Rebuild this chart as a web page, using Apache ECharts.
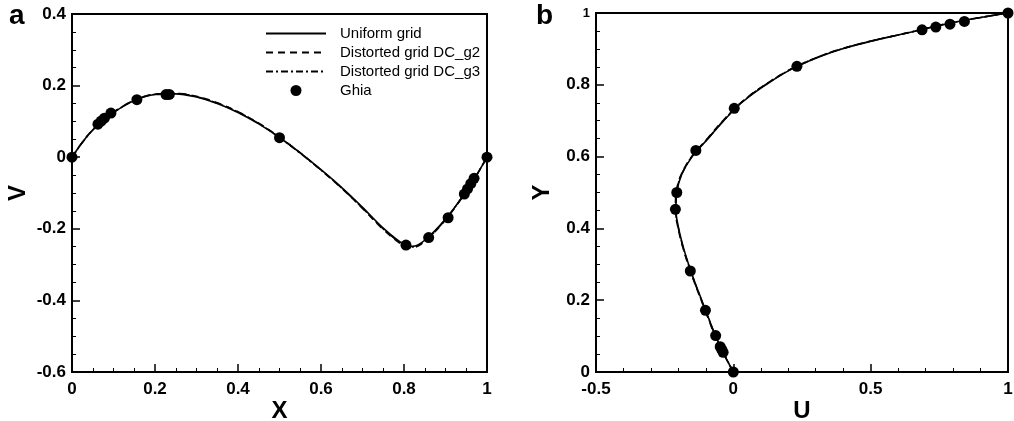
<!DOCTYPE html>
<html>
<head>
<meta charset="utf-8">
<script src="https://cdn.jsdelivr.net/npm/echarts@6/dist/echarts.min.js"></script>
<style>html,body{margin:0;padding:0;background:#fff;}#c{width:1014px;height:421px;}</style>
</head>
<body>
<div id="c"></div>
<script>
// ---- Panel a: V along horizontal centerline ----
const xTicksA = [0, 0.2, 0.4, 0.6, 0.8, 1];
const vTicksA = [-0.6, -0.4, -0.2, 0, 0.2, 0.4];
const lineX = [0, 0.025, 0.05, 0.075, 0.1, 0.15, 0.2, 0.25, 0.3, 0.35, 0.4, 0.45, 0.5, 0.55, 0.6, 0.65, 0.7, 0.75, 0.8, 0.82, 0.85, 0.9, 0.95, 0.975, 1];
const vUniform = [0, 0.042, 0.076, 0.103, 0.125, 0.158, 0.175, 0.177, 0.168, 0.150, 0.125, 0.093, 0.055, 0.012, -0.035, -0.085, -0.140, -0.198, -0.244, -0.249, -0.232, -0.173, -0.095, -0.050, 0];
const vDCg2 = [0, 0.042, 0.077, 0.104, 0.126, 0.159, 0.176, 0.178, 0.170, 0.152, 0.127, 0.095, 0.056, 0.012, -0.036, -0.087, -0.143, -0.202, -0.248, -0.253, -0.235, -0.175, -0.096, -0.050, 0];
const vDCg3 = [0, 0.041, 0.076, 0.103, 0.125, 0.159, 0.176, 0.178, 0.169, 0.151, 0.126, 0.094, 0.055, 0.011, -0.036, -0.086, -0.142, -0.200, -0.246, -0.251, -0.234, -0.174, -0.095, -0.050, 0];
const ghiaX = [1.0000, 0.9688, 0.9609, 0.9531, 0.9453, 0.9063, 0.8594, 0.8047, 0.5000, 0.2344, 0.2266, 0.1563, 0.0938, 0.0781, 0.0703, 0.0625, 0.0000];
const ghiaV = [0.00000, -0.05906, -0.07391, -0.08864, -0.10313, -0.16914, -0.22445, -0.24533, 0.05454, 0.17527, 0.17507, 0.16077, 0.12317, 0.10890, 0.10091, 0.09233, 0.00000];

// ---- Panel b: U along vertical centerline ----
const uTicksB = [-0.5, 0, 0.5, 1];
const yTicksB = [0, 0.2, 0.4, 0.6, 0.8, 1];
const lineY = [0, 0.05, 0.1, 0.15, 0.2, 0.25, 0.3, 0.35, 0.4, 0.45, 0.5, 0.55, 0.6, 0.65, 0.7, 0.75, 0.8, 0.85, 0.9, 0.95, 0.975, 1];
const uUniform = [0, -0.034, -0.064, -0.090, -0.115, -0.140, -0.163, -0.183, -0.199, -0.209, -0.206, -0.188, -0.150, -0.092, -0.035, 0.030, 0.118, 0.228, 0.395, 0.665, 0.810, 1];
const uDCg2 = [0, -0.035, -0.066, -0.092, -0.117, -0.142, -0.165, -0.185, -0.201, -0.211, -0.208, -0.190, -0.152, -0.095, -0.038, 0.027, 0.115, 0.226, 0.393, 0.663, 0.808, 1];
const uDCg3 = [0, -0.034, -0.065, -0.091, -0.116, -0.141, -0.164, -0.184, -0.200, -0.210, -0.207, -0.189, -0.151, -0.093, -0.036, 0.028, 0.116, 0.227, 0.394, 0.664, 0.809, 1];
const ghiaY = [1.0000, 0.9766, 0.9688, 0.9609, 0.9531, 0.8516, 0.7344, 0.6172, 0.5000, 0.4531, 0.2813, 0.1719, 0.1016, 0.0703, 0.0625, 0.0547, 0.0000];
const ghiaU = [1.00000, 0.84123, 0.78871, 0.73722, 0.68717, 0.23151, 0.00332, -0.13641, -0.20581, -0.21090, -0.15662, -0.10150, -0.06434, -0.04775, -0.04192, -0.03717, 0.00000];

const seriesNames = ['Uniform grid', 'Distorted grid DC_g2', 'Distorted grid DC_g3', 'Ghia'];

const FONT = '"Liberation Sans", Arial, sans-serif';
const zip = (a, b) => a.map((v, i) => [v, b[i]]);
const fmt = v => (Math.abs(v) < 1e-9 ? '0' : String(+v.toFixed(2)));

function valueAxis(ticks, interval, minorSplit, name, nameGap, labelMargin, extra) {
  return Object.assign({
    type: 'value',
    min: ticks[0], max: ticks[ticks.length - 1], interval: interval,
    name: name, nameLocation: 'middle', nameGap: nameGap, nameMoveOverlap: false,
    nameTextStyle: { fontFamily: FONT, fontSize: 24, color: '#000', fontWeight: 'bold' },
    axisLine: { show: true, onZero: false, lineStyle: { color: '#000', width: 2 } },
    axisTick: { show: true, inside: true, length: 8, lineStyle: { color: '#000', width: 1.5 } },
    minorTick: { show: true, splitNumber: minorSplit, length: 4, lineStyle: { color: '#000', width: 1 } },
    splitLine: { show: false },
    axisLabel: { fontFamily: FONT, fontSize: 17, fontWeight: 'bold', color: '#000', margin: labelMargin, formatter: fmt }
  }, extra || {});
}

const lineStyles = [
  { type: 'solid' },
  { type: [7, 5] },
  { type: [7, 3, 2, 3] }
];

function lineSeries(name, data, xi, yi, k) {
  return {
    name: name, type: 'line', data: data, xAxisIndex: xi, yAxisIndex: yi,
    showSymbol: false, symbol: 'none', smooth: 0.35,
    lineStyle: Object.assign({ color: '#000', width: 1.6 }, lineStyles[k]),
    itemStyle: { color: '#000' }, z: 3
  };
}
function scatterSeries(name, data, xi, yi) {
  return {
    name: name, type: 'scatter', data: data, xAxisIndex: xi, yAxisIndex: yi,
    symbol: 'circle', symbolSize: 11, itemStyle: { color: '#000', opacity: 1 }, z: 5
  };
}

const yAxisB = valueAxis(yTicksB, 0.2, 4, 'Y', 42, 6, { gridIndex: 1 });
yAxisB.axisLabel.formatter = v => (Math.abs(v - 1) < 1e-9 ? '{s|1}' : fmt(v));
yAxisB.axisLabel.rich = { s: { fontFamily: FONT, fontSize: 13, fontWeight: 'bold', color: '#000' } };

const option = {
  backgroundColor: '#fff',
  animation: false,
  grid: [
    { left: 72, top: 14, width: 415, height: 358, outerBoundsMode: 'none', containLabel: false, show: true, borderColor: '#000', borderWidth: 2, backgroundColor: 'transparent' },
    { left: 596, top: 13, width: 412, height: 359, outerBoundsMode: 'none', containLabel: false, show: true, borderColor: '#000', borderWidth: 2, backgroundColor: 'transparent' }
  ],
  xAxis: [
    valueAxis(xTicksA, 0.2, 4, 'X', 27, 9, { gridIndex: 0 }),
    valueAxis(uTicksB, 0.5, 5, 'U', 27, 9, { gridIndex: 1 })
  ],
  yAxis: [
    valueAxis(vTicksA, 0.2, 4, 'V', 42, 6, { gridIndex: 0 }),
    yAxisB
  ],
  legend: {
    data: [
      { name: seriesNames[0], itemStyle: { opacity: 0 } },
      { name: seriesNames[1], itemStyle: { opacity: 0 } },
      { name: seriesNames[2], itemStyle: { opacity: 0 } },
      { name: seriesNames[3], icon: 'circle', itemStyle: { opacity: 1, color: '#000' } }
    ],
    orient: 'vertical',
    left: 260, top: 21,
    itemWidth: 60, itemHeight: 11, itemGap: 4,
    textStyle: { fontFamily: FONT, fontSize: 15, color: '#000', padding: [0, 0, 0, 9] },
    selectedMode: false
  },
  series: [
    lineSeries(seriesNames[0], zip(lineX, vUniform), 0, 0, 0),
    lineSeries(seriesNames[1], zip(lineX, vDCg2), 0, 0, 1),
    lineSeries(seriesNames[2], zip(lineX, vDCg3), 0, 0, 2),
    scatterSeries(seriesNames[3], zip(ghiaX, ghiaV), 0, 0),
    lineSeries(seriesNames[0], zip(uUniform, lineY), 1, 1, 0),
    lineSeries(seriesNames[1], zip(uDCg2, lineY), 1, 1, 1),
    lineSeries(seriesNames[2], zip(uDCg3, lineY), 1, 1, 2),
    scatterSeries(seriesNames[3], zip(ghiaU, ghiaY), 1, 1)
  ],
  graphic: [
    { type: 'text', left: 9, top: 2, style: { text: 'a', fontFamily: FONT, fontSize: 28, fontWeight: 'bold', fill: '#000' } },
    { type: 'text', left: 536, top: 2, style: { text: 'b', fontFamily: FONT, fontSize: 28, fontWeight: 'bold', fill: '#000' } }
  ]
};

const chart = echarts.init(document.getElementById('c'), null, { renderer: 'canvas' });
chart.setOption(option);
</script>
</body>
</html>
